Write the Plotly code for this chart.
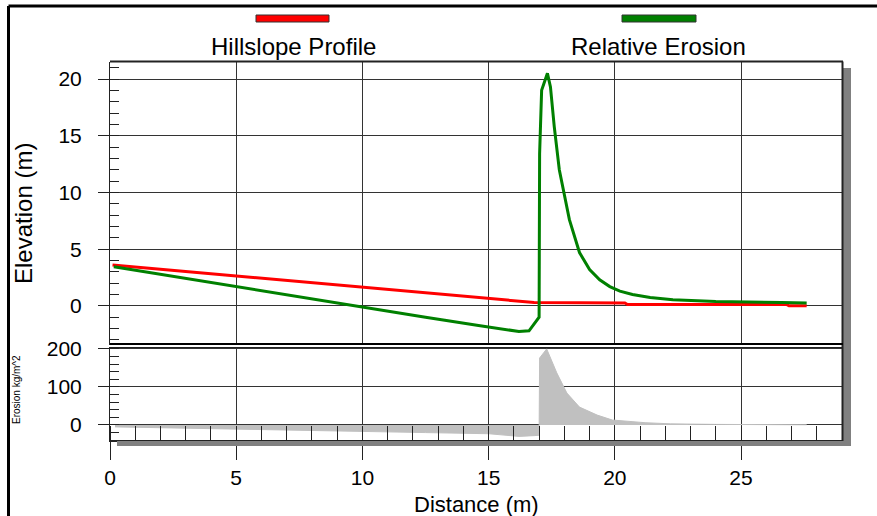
import plotly.graph_objects as go

W, H = 877, 516

# ---------------- data ----------------
profile_x = [0.1, 5.0, 10.0, 16.8, 20.4, 20.5, 26.8, 26.9, 27.6]
profile_y = [3.6, 2.63, 1.65, 0.3, 0.25, 0.12, 0.12, 0.0, 0.0]

rel_x = [0.15, 5.0, 7.5, 10.0, 12.5, 14.6, 16.2, 16.6, 16.8, 17.0,
         17.02, 17.1, 17.33, 17.45, 17.6, 17.8, 18.2, 18.6, 19.0, 19.4, 19.8,
         20.2, 20.7, 21.4, 22.3, 24.0, 26.6, 27.6]
rel_y = [3.45, 1.7, 0.75, -0.15, -1.0, -1.73, -2.26, -2.2, -1.6, -1.0,
         13.4, 19.0, 20.5, 19.3, 15.8, 12.0, 7.6, 4.7, 3.2, 2.3, 1.7,
         1.3, 1.0, 0.73, 0.53, 0.38, 0.3, 0.25]

ero_x = [0.2, 2.5, 5.0, 7.5, 10.0, 12.5, 15.0, 16.2, 16.8, 17.0,
         17.02, 17.3, 17.7, 18.1, 18.6, 19.3, 19.9, 21.2, 22.2, 24.0, 27.6]
ero_y = [-5, -8, -12, -15, -18, -20, -23, -30, -28, -27,
         176, 200, 137, 84, 47, 26, 13, 6, 3, 1.5, 0.5]

x_ticks = [0, 5, 10, 15, 20, 25]
elev_ticks = [0, 5, 10, 15, 20]
ero_ticks = [0, 100, 200]

series_names = ["Hillslope Profile", "Relative Erosion"]
series_colors = ["#ff0000", "#008000"]


def px(x):
    return x / W


def py(y):
    return 1 - y / H


FONT = "Arial, Liberation Sans, sans-serif"
DARK = "#222222"
GRID = "#333333"

fig = go.Figure()

fig.add_trace(go.Scatter(x=ero_x, y=ero_y, xaxis="x", yaxis="y2", mode="lines",
                         fill="tozeroy", fillcolor="#c0c0c0",
                         line=dict(color="#c0c0c0", width=1), showlegend=False,
                         hoverinfo="x+y"))
fig.add_trace(go.Scatter(x=profile_x, y=profile_y, xaxis="x2", yaxis="y", mode="lines",
                         line=dict(color=series_colors[0], width=3), name=series_names[0],
                         showlegend=False))
fig.add_trace(go.Scatter(x=rel_x, y=rel_y, xaxis="x2", yaxis="y", mode="lines",
                         line=dict(color=series_colors[1], width=3), name=series_names[1],
                         showlegend=False))

xdom = [px(110), px(842)]

fig.update_layout(
    width=W, height=H,
    margin=dict(l=0, r=0, t=0, b=0),
    paper_bgcolor="white", plot_bgcolor="white",
    font=dict(family=FONT, color="black"),
    showlegend=False,
    xaxis=dict(domain=xdom, range=[0, 29], anchor="y2", tickvals=x_ticks,
               ticks="outside", ticklen=18, tickwidth=1, tickcolor=DARK,
               showgrid=True, gridcolor=GRID, gridwidth=1, zeroline=False,
               showline=True, linecolor=DARK, linewidth=2,
               minor=dict(dtick=1, tick0=0, ticks="inside", ticklen=14,
                          tickcolor=DARK, tickwidth=1, showgrid=False),
               tickfont=dict(size=21), automargin=False),
    xaxis2=dict(domain=xdom, range=[0, 29], anchor="y", matches="x", tickvals=x_ticks,
                showticklabels=False, ticks="", showgrid=True, gridcolor=GRID,
                gridwidth=1, zeroline=False, showline=False, automargin=False),
    yaxis=dict(domain=[py(345), py(62)], range=[-3.45, 21.5], anchor="x2",
               tickvals=elev_ticks, ticks="outside", ticklen=11, tickcolor=DARK,
               showgrid=True, gridcolor=GRID, gridwidth=1, zeroline=False,
               showline=True, linecolor=DARK, linewidth=1,
               minor=dict(dtick=1, tick0=0, ticks="inside", ticklen=9,
                          tickcolor=DARK, showgrid=False),
               tickfont=dict(size=21), ticklabelstandoff=12, automargin=False),
    yaxis2=dict(domain=[py(440), py(347)], range=[-39.5, 205], anchor="x",
                tickvals=ero_ticks, ticks="outside", ticklen=11, tickcolor=DARK,
                showgrid=True, gridcolor=GRID, gridwidth=1, zeroline=False,
                showline=True, linecolor=DARK, linewidth=1,
                minor=dict(dtick=20, tick0=0, ticks="inside", ticklen=9,
                           tickcolor=DARK, showgrid=False),
                tickfont=dict(size=21), ticklabelstandoff=12, automargin=False),
)

shapes = []


def line(x0, y0, x1, y1, color=DARK, width=1):
    shapes.append(dict(type="line", xref="paper", yref="paper",
                       x0=px(x0), y0=py(y0), x1=px(x1), y1=py(y1),
                       line=dict(color=color, width=width)))


def rect(x0, y0, x1, y1, fill, lc=None, lw=0):
    shapes.append(dict(type="rect", xref="paper", yref="paper",
                       x0=px(x0), y0=py(y0), x1=px(x1), y1=py(y1),
                       fillcolor=fill, line=dict(color=lc or fill, width=lw)))


# outer frame
line(8.5, 6, 8.5, 516, "black", 3)
line(8.5, 6, 877, 6, "black", 3)
# shadows
rect(843, 68, 851, 446, "#808080")
rect(117, 441, 851, 446, "#808080")
# plot borders
line(110, 61.5, 843, 61.5, DARK, 2)
line(842.5, 61.5, 842.5, 441, DARK, 2)
line(110, 344, 843, 344, "black", 2)
line(110, 347.5, 843, 347.5, DARK, 1)
# legend bars
rect(256, 15, 329, 22, series_colors[0], "#333333", 1)
rect(622, 15, 696, 22, series_colors[1], "#333333", 1)
fig.update_layout(shapes=shapes)

ann = [
    dict(text=series_names[0], x=px(293), y=py(47), font=dict(size=24)),
    dict(text=series_names[1], x=px(658), y=py(47), font=dict(size=24)),
    dict(text="Distance (m)", x=px(476), y=py(504), font=dict(size=22)),
    dict(text="Elevation (m)", x=px(23), y=py(214), font=dict(size=24), textangle=-90),
    dict(text="Erosion kg/m^2", x=px(16), y=py(390), font=dict(size=10), textangle=-90),
]
for a in ann:
    a.update(xref="paper", yref="paper", showarrow=False, xanchor="center", yanchor="middle")
fig.update_layout(annotations=ann)

fig.write_html(
    "out.html",
    config={"displayModeBar": False},
    post_script="document.body.style.margin='0';document.body.style.overflow='hidden';",
)
